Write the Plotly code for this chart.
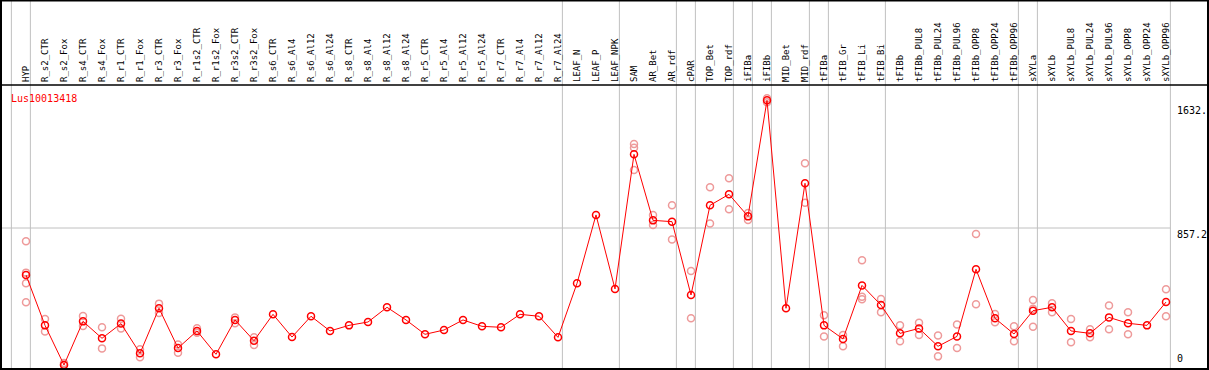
import plotly.graph_objects as go

categories = ["HYP", "R_s2_CTR", "R_s2_Fox", "R_s4_CTR", "R_s4_Fox", "R_r1_CTR", "R_r1_Fox",
              "R_r3_CTR", "R_r3_Fox", "R_r1s2_CTR", "R_r1s2_Fox", "R_r3s2_CTR", "R_r3s2_Fox",
              "R_s6_CTR", "R_s6_Al4", "R_s6_Al12", "R_s6_Al24", "R_s8_CTR", "R_s8_Al4",
              "R_s8_Al12", "R_s8_Al24", "R_r5_CTR", "R_r5_Al4", "R_r5_Al12", "R_r5_Al24",
              "R_r7_CTR", "R_r7_Al4", "R_r7_Al12", "R_r7_Al24", "LEAF_N", "LEAF_P", "LEAF_NPK",
              "SAM", "AR_Bet", "AR_rdf", "cPAR", "TOP_Bet", "TOP_rdf", "iFIBa", "iFIBb",
              "MID_Bet", "MID_rdf", "tFIBa", "tFIB_Gr", "tFIB_Li", "tFIB_Bi", "tFIBb",
              "tFIBb_PUL8", "tFIBb_PUL24", "tFIBb_PUL96", "tFIBb_OPP8", "tFIBb_OPP24",
              "tFIBb_OPP96", "sXYLa", "sXYLb", "sXYLb_PUL8", "sXYLb_PUL24", "sXYLb_PUL96",
              "sXYLb_OPP8", "sXYLb_OPP24", "sXYLb_OPP96"]

mean_values = [563, 248, 0, 273, 167, 259, 73, 355, 106, 213, 67, 282, 152,
               317, 175, 305, 213, 248, 269, 361, 282, 192, 219, 282, 242,
               236, 317, 305, 173, 511, 939, 476,
               1318, 905, 897, 438, 999, 1068, 930, 1656,
               355, 1137, 248, 163, 498, 375, 198,
               229, 117, 179, 599, 292, 194,
               340, 361, 213, 198, 298, 261, 248, 394]

replicate_values = [
    [774, 578, 511, 392], [288, 209], [12, 2], [307, 244], [236, 104], [290, 229], [98, 48],
    [384, 325], [129, 77], [230, 202], [], [298, 261], [173, 125],
    [], [], [], [], [], [], [], [], [], [], [], [], [], [], [], [], [], [], [],
    [1383, 1360, 1220], [939, 876], [999, 786], [588, 292], [1112, 886], [1168, 974],
    [951, 907], [1669, 1644], [], [1262, 1016], [311, 179], [188, 117], [655, 427, 411],
    [413, 330], [248, 148], [265, 188], [184, 54], [254, 106], [820, 380], [319, 267],
    [242, 148], [407, 352, 240], [386, 330], [288, 142], [223, 173], [373, 223],
    [330, 192], [], [474, 305]]

group_end_index = [-1, 0, 28, 31, 34, 35, 37, 38, 39, 41, 42, 45, 52, 53, 60]
axis_labels = [1632, 857.2, 0]
axis_label_text = ["1632.", "857.2", "0"]
title_text = "Lus10013418"

rep_x, rep_y = [], []
for c, reps in zip(categories, replicate_values):
    for r in reps:
        rep_x.append(c)
        rep_y.append(r)

fig = go.Figure()
fig.add_trace(go.Scatter(x=rep_x, y=rep_y, mode="markers",
                         marker=dict(symbol="circle-open", size=7, color="#ee9a9a",
                                     line=dict(width=1.5, color="#ee9a9a")),
                         hoverinfo="skip", showlegend=False))
fig.add_trace(go.Scatter(x=categories, y=mean_values, mode="lines+markers",
                         line=dict(color="#ff0000", width=1),
                         marker=dict(symbol="circle-open", size=7, color="#ff0000",
                                     line=dict(width=1.5, color="#ff0000")),
                         showlegend=False))

W, H = 1209, 370
ml, mr, mt, mb = 1, 1, 85, 1
plot_h = H - mt - mb
top_paper = (plot_h + mt - 0.5) / plot_h

shapes = []
for g in group_end_index:
    shapes.append(dict(type="line", xref="x", yref="paper", x0=g + 0.23, x1=g + 0.23,
                       y0=0, y1=top_paper, line=dict(color="#c0c0c0", width=1), layer="below"))
shapes.append(dict(type="line", xref="x", yref="y", x0=-1.32, x1=group_end_index[-1] + 0.23,
                   y0=axis_labels[1], y1=axis_labels[1],
                   line=dict(color="#c0c0c0", width=1), layer="below"))
# header bottom line and frame
shapes.append(dict(type="line", xref="paper", yref="paper", x0=0, x1=1, y0=1, y1=1,
                   line=dict(color="black", width=1.5)))
shapes.append(dict(type="rect", xref="paper", yref="paper", x0=0, x1=1, y0=0, y1=top_paper,
                   line=dict(color="black", width=2)))

annotations = [dict(text=title_text, xref="paper", yref="paper", x=8 / (W - ml - mr),
                    y=(plot_h + mt - 91) / plot_h, xanchor="left", yanchor="top",
                    showarrow=False, font=dict(family="DejaVu Sans Mono", size=10, color="#ff0000"))]
for v, t in zip(axis_labels, axis_label_text):
    annotations.append(dict(text=t, xref="x", yref="y", x=60.55, y=v, xanchor="left",
                            yanchor="bottom" if v == 0 else "top", showarrow=False,
                            borderpad=0,
                            font=dict(family="DejaVu Sans Mono", size=10, color="black")))

fig.update_layout(
    width=W, height=H, margin=dict(l=ml, r=mr, t=mt, b=mb),
    paper_bgcolor="white", plot_bgcolor="white",
    shapes=shapes, annotations=annotations,
    xaxis=dict(type="category", categoryorder="array", categoryarray=categories,
               range=[-1.316, 62.21], side="top", tickangle=-90, ticks="",
               ticklabelstandoff=2,
               showgrid=False, zeroline=False, showline=False,
               tickfont=dict(family="DejaVu Sans Mono", size=9, color="black")),
    yaxis=dict(range=[-25, 1752], showgrid=False, zeroline=False, showticklabels=False,
               showline=False, ticks=""),
)
fig.write_html("out.html", config={"displayModeBar": False},
               post_script="document.body.style.margin='0px';document.body.style.overflow='hidden';")
